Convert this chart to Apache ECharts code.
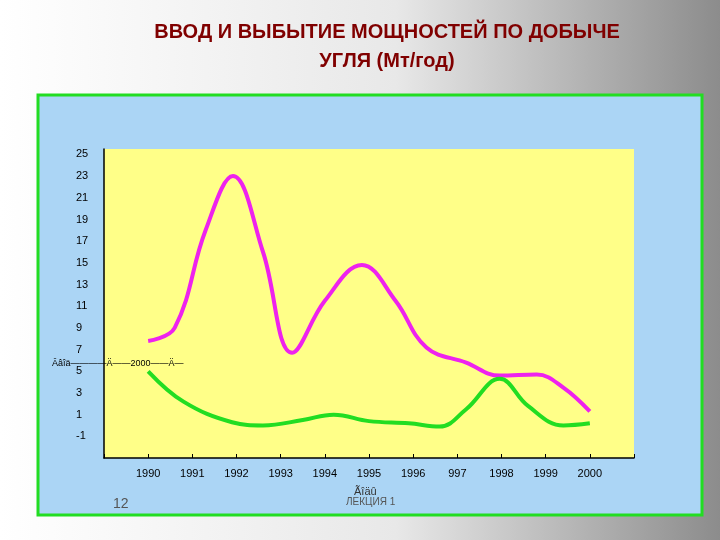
<!DOCTYPE html>
<html>
<head>
<meta charset="utf-8">
<script src="https://cdn.jsdelivr.net/npm/echarts@6/dist/echarts.min.js"></script>
<style>
html,body{margin:0;padding:0;}
#main{width:720px;height:540px;}
</style>
</head>
<body>
<div id="main"></div>
<script>
// данные (год, Мт/год)
var yearTicks = [1990, 1991, 1992, 1993, 1994, 1995, 1996, 1997, 1998, 1999, 2000];
var yearLabels = ['1990', '1991', '1992', '1993', '1994', '1995', '1996', '997', '1998', '1999', '2000'];
var inputYears = [1990, 1990.6, 1991.3, 1991.92, 1992.6, 1993.26, 1994.0, 1994.84, 1995.6, 1996.3, 1997.2, 1997.96, 1998.8, 1999.4, 2000];
var inputVals  = [7.8, 9.0, 18.0, 23.0, 16.0, 6.7, 11.5, 14.8, 11.5, 7.2, 5.8, 4.6, 4.7, 3.5, 1.3];
var outYears = [1990, 1990.8, 1991.9, 1992.6, 1993.5, 1994.2, 1995.0, 1995.9, 1996.6, 1997.2, 1997.96, 1998.6, 1999.4, 2000];
var outVals  = [5.0, 2.2, 0.3, 0.0, 0.5, 1.0, 0.4, 0.2, -0.1, 1.5, 4.3, 1.8, 0.0, 0.2];

function pairs(xs, ys) {
	var out = [];
	for (var i = 0; i < xs.length; i++) {
		out.push([xs[i], ys[i]]);
	}
	return out;
}

var myChart = echarts.init(document.getElementById('main'));

var option = {
	animation : false,
	backgroundColor : {
		type : 'linear', x : 0, y : 0, x2 : 1, y2 : 0,
		colorStops : [{offset : 0, color : '#ffffff'}, {offset : 0.55, color : '#e8e8e8'}, {offset : 1, color : '#8c8c8c'}]
	},
	graphic : [{
		type : 'rect', z : -10,
		shape : {x : 38, y : 95, width : 664, height : 420},
		style : {fill : '#abd5f5', stroke : '#22dd22', lineWidth : 3}
	}, {
		type : 'text', x : 387, y : 22,
		style : {text : 'ВВОД И ВЫБЫТИЕ МОЩНОСТЕЙ ПО ДОБЫЧЕ', fill : '#800000', font : 'bold 20px Liberation Sans', textAlign : 'center'}
	}, {
		type : 'text', x : 387, y : 51,
		style : {text : 'УГЛЯ (Мт/год)', fill : '#800000', font : 'bold 20px Liberation Sans', textAlign : 'center'}
	}, {
		type : 'text', left : 52, top : 359,
		style : {text : 'Ââîä————Ä——2000——Ä—', fill : '#000', font : '9px Liberation Sans'}
	}, {
		type : 'text', left : 113, top : 497,
		style : {text : '12', fill : '#555', font : '14px Liberation Sans'}
	}, {
		type : 'text', left : 354, top : 486,
		style : {text : 'Ãîäû', fill : '#333', font : '11px Liberation Sans'}
	}, {
		type : 'text', left : 346, top : 497,
		style : {text : 'ЛЕКЦИЯ 1', fill : '#555', font : '10px Liberation Sans'}
	}],
	grid : {
		left : 104, right : 86, top : 149, bottom : 82,
		show : true, backgroundColor : '#ffff88', borderWidth : 0
	},
	xAxis : {
		type : 'value', min : 1989, max : 2001, interval : 1,
		axisLine : {onZero : false, lineStyle : {color : '#000', width : 1.5}},
		axisTick : {show : true, inside : true, length : 4, lineStyle : {color : '#000'}},
		splitLine : {show : false},
		axisLabel : {
			color : '#000', fontSize : 11, fontFamily : 'Liberation Sans', margin : 10,
			formatter : function(v) {
				var i = yearTicks.indexOf(Math.round(v));
				return i >= 0 ? yearLabels[i] : '';
			}
		}
	},
	yAxis : {
		type : 'value', min : -3, max : 25.5, interval : 2,
		axisLine : {show : true, onZero : false, lineStyle : {color : '#000', width : 1.5}},
		axisTick : {show : false},
		splitLine : {show : false},
		axisLabel : {
			color : '#000', fontSize : 11, fontFamily : 'Liberation Sans', margin : 28, align : 'left',
			formatter : function(v) {
				return (v < -2 || v > 25) ? '' : String(v);
			}
		}
	},
	series : [{
		type : 'line', smooth : 0.4, symbol : 'none',
		lineStyle : {color : '#ee22ee', width : 4},
		data : pairs(inputYears, inputVals)
	}, {
		type : 'line', smooth : 0.4, symbol : 'none',
		lineStyle : {color : '#22dd22', width : 4},
		data : pairs(outYears, outVals)
	}]
};

myChart.setOption(option);
</script>
</body>
</html>
